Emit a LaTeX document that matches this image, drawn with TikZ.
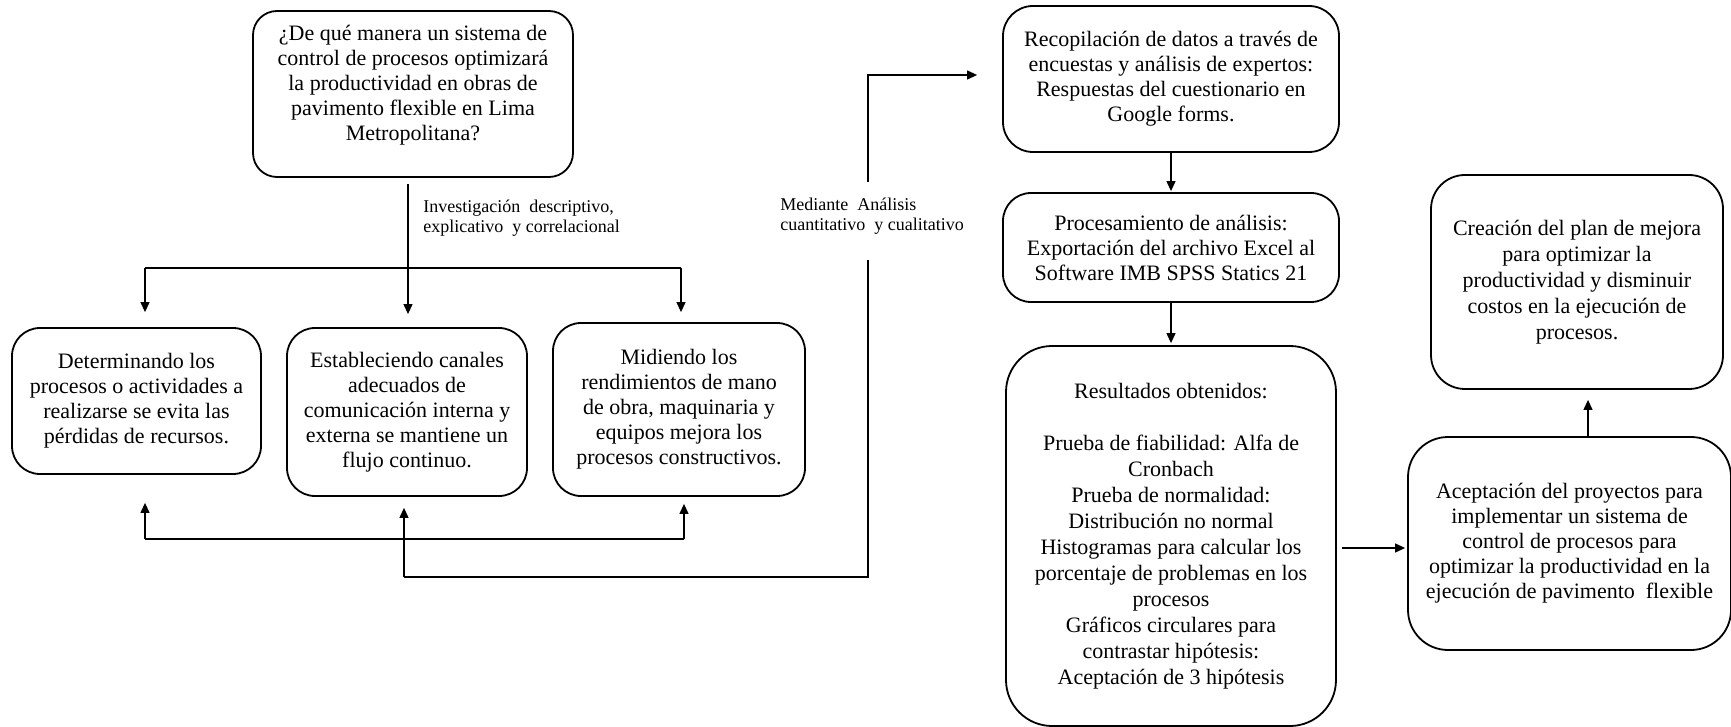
\documentclass[tikz,border=0pt]{standalone}
\usepackage{fontspec}
\setmainfont{Liberation Serif}
\usetikzlibrary{arrows.meta}

\begin{document}
\begin{tikzpicture}[x=0.5pt,y=-0.5pt,
  box/.style={draw, line width=0.9pt, align=center, inner sep=2pt,
    font=\fontsize{11}{12.5}\selectfont},
  loose/.style={font=\fontsize{11}{13}\selectfont},
  conn/.style={line width=0.6pt},
  arr/.style={conn, -{Triangle[length=5pt,width=4.5pt]}},
  note/.style={align=left, inner sep=1pt, font=\fontsize{9}{10.2}\selectfont}]
\useasboundingbox (0,0) rectangle (1731,727);

% question box (text set a little above the middle)
\node[box, rounded corners=12pt, minimum width=160pt, minimum height=83pt] (Q) at (413,94)
  {¿De qué manera un sistema de\\ control de procesos optimizará\\ la productividad en obras de\\ pavimento flexible en Lima\\ Metropolitana?\\[-1.5pt]\mbox{}};

% three strategy boxes
\node[box, rounded corners=14pt, minimum width=124.5pt, minimum height=73pt] (B1) at (136.5,401)
  {Determinando los\\ procesos o actividades a\\ realizarse se evita las\\ pérdidas de recursos.};
\node[box, rounded corners=14pt, minimum width=120pt, minimum height=84pt] (B2) at (407,412)
  {Estableciendo canales\\ adecuados de\\ comunicación interna y\\ externa se mantiene un\\ flujo continuo.};
\node[box, rounded corners=14pt, minimum width=126pt, minimum height=86.5pt] (B3) at (679,409.5)
  {Midiendo los\\ rendimientos de mano\\ de obra, maquinaria y\\ equipos mejora los\\ procesos constructivos.};

% analysis column
\node[box, rounded corners=15pt, minimum width=168pt, minimum height=73pt] (R1) at (1171,79)
  {Recopilación de datos a través de\\ encuestas y análisis de expertos:\\ Respuestas del cuestionario en\\ Google forms.};
\node[box, rounded corners=14pt, minimum width=168pt, minimum height=54.5pt] (R2) at (1171,247.5)
  {Procesamiento de análisis:\\ Exportación del archivo Excel al\\ Software IMB SPSS Statics 21};
\node[box, loose, rounded corners=23pt, minimum width=165pt, minimum height=190pt] (R3) at (1171,536)
  {Resultados obtenidos:\\[13pt] Prueba de fiabilidad: Alfa de\\ Cronbach\\ Prueba de normalidad:\\ Distribución no normal\\ Histogramas para calcular los\\ porcentaje de problemas en los\\ procesos\\ Gráficos circulares para\\ contrastar hipótesis:\\ Aceptación de 3 hipótesis};

% outcome boxes
\node[box, loose, rounded corners=17pt, minimum width=146pt, minimum height=107pt] (R4) at (1577,282)
  {Creación del plan de mejora\\ para optimizar la\\ productividad y disminuir\\ costos en la ejecución de\\ procesos.};
\node[box, rounded corners=20pt, minimum width=161.5pt, minimum height=106.5pt] (R5) at (1569.5,543.5)
  {Aceptación del proyectos para\\ implementar un sistema de\\ control de procesos para\\ optimizar la productividad en la\\ ejecución de pavimento\ \ flexible};

% junction points
\coordinate (trunk) at (408,268);
\coordinate (bl) at (145,268);
\coordinate (br) at (681,268);
\coordinate (ul) at (145,539);
\coordinate (ur) at (684,539);
\coordinate (um) at (404,577);
\coordinate (uc) at (868,577);
\coordinate (g1) at (868,182);
\coordinate (g2) at (868,260);
\coordinate (tc) at (868,75);
\coordinate (h35) at (1341,548);
\coordinate (v54) at (1588,437);

% question to the three strategies
\draw[arr, shorten <=3pt, shorten >=6.5pt] (Q.south -| trunk) -- (B2.north -| trunk);
\draw[conn] (bl) -- (br);
\draw[arr, shorten >=7.5pt] (bl) -- (B1.north -| bl);
\draw[arr, shorten >=5pt] (br) -- (B3.north -| br);

% feedback from the analysis back to the strategies
\draw[conn] (ul) -- (ur);
\draw[arr, shorten >=14pt] (ul) -- (B1.south -| ul);
\draw[arr, shorten >=3.5pt] (ur) -- (B3.south -| ur);
\draw[arr, shorten >=5.5pt] (um) -- (B2.south -| um);
\draw[conn] (um) -- (uc) -- (g2);
\draw[arr, shorten >=12.5pt] (g1) -- (tc) -- (R1.west |- tc);

% labels
\node[note, anchor=west] (lab1) at (421,218)
  {Investigación\ \ descriptivo,\\ explicativo\ \ y correlacional};
\node[note, anchor=west] (lab2) at (778,216)
  {Mediante\ \ Análisis\\ cuantitativo\ \ y cualitativo};

% analysis flow
\draw[arr, shorten >=0.5pt] (R1) -- (R2);
\draw[arr, shorten >=1pt] (R2) -- (R3);
\draw[arr, shorten >=1pt] (R3.east |- h35) ++(2.5pt,0) -- (R5.west |- h35);
\draw[arr, shorten >=5pt] (R5.north -| v54) -- (R4.south -| v54);
\end{tikzpicture}
\end{document}
